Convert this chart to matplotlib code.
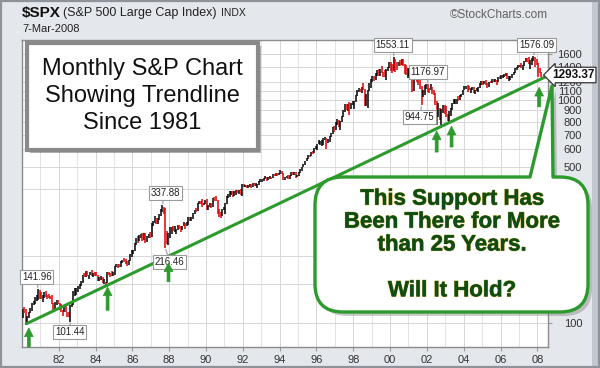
import matplotlib
matplotlib.use("Agg")
import matplotlib.pyplot as plt
from matplotlib.path import Path
from matplotlib.patches import PathPatch, Rectangle
from matplotlib.ticker import FixedLocator, NullLocator, FixedFormatter
import matplotlib.patheffects as pe

plt.rcParams['font.family'] = ['Liberation Sans', 'DejaVu Sans']

# ---------------- data (monthly S&P 500, Jan 1980 - 7 Mar 2008) ----------------
start_year = 1980
prev_close_dec1979 = 107.94

closes = [
    [114.16, 113.66, 102.09, 106.29, 111.24, 114.24, 121.67, 122.38, 125.46, 127.47, 140.52, 135.76],
    [129.55, 131.27, 136.00, 132.81, 132.59, 131.21, 130.92, 122.79, 116.18, 121.89, 126.35, 122.55],
    [120.40, 113.11, 111.96, 116.44, 111.88, 109.61, 107.09, 119.51, 120.42, 133.71, 138.54, 140.64],
    [145.30, 148.06, 152.96, 164.42, 162.39, 168.11, 162.56, 164.40, 166.07, 163.55, 166.40, 164.93],
    [163.41, 157.06, 159.18, 160.05, 150.55, 153.18, 150.66, 166.68, 166.10, 166.09, 163.58, 167.24],
    [179.63, 181.18, 180.66, 179.83, 189.55, 191.85, 190.92, 188.63, 182.08, 189.82, 202.17, 211.28],
    [211.78, 226.92, 238.90, 235.52, 247.35, 250.84, 236.12, 252.93, 231.32, 243.98, 249.22, 242.17],
    [274.08, 284.20, 291.70, 288.36, 290.10, 304.00, 318.66, 329.80, 321.83, 251.79, 230.30, 247.08],
    [257.07, 267.82, 258.89, 261.33, 262.16, 273.50, 272.02, 261.52, 271.91, 278.97, 273.70, 277.72],
    [297.47, 288.86, 294.87, 309.64, 320.52, 317.98, 346.08, 351.45, 349.15, 340.36, 345.99, 353.40],
    [329.08, 331.89, 339.94, 330.80, 361.23, 358.02, 356.15, 322.56, 306.05, 304.00, 322.22, 330.22],
    [343.93, 367.07, 375.22, 375.35, 389.83, 371.16, 387.81, 395.43, 387.86, 392.46, 375.22, 417.09],
    [408.79, 412.70, 403.69, 414.95, 415.35, 408.14, 424.21, 414.03, 417.80, 418.68, 431.35, 435.71],
    [438.78, 443.38, 451.67, 440.19, 450.19, 450.53, 448.13, 463.56, 458.93, 467.83, 461.79, 466.45],
    [481.61, 467.14, 445.77, 450.91, 456.50, 444.27, 458.26, 475.49, 462.69, 472.35, 453.69, 459.27],
    [470.42, 487.39, 500.71, 514.71, 533.40, 544.75, 562.06, 561.88, 584.41, 581.50, 605.37, 615.93],
    [636.02, 640.43, 645.50, 654.17, 669.12, 670.63, 639.95, 651.99, 687.33, 705.27, 757.02, 740.74],
    [786.16, 790.82, 757.12, 801.34, 848.28, 885.14, 954.31, 899.47, 947.28, 914.62, 955.40, 970.43],
    [980.28, 1049.34, 1101.75, 1111.75, 1090.82, 1133.84, 1120.67, 957.28, 1017.01, 1098.67, 1163.63, 1229.23],
    [1279.64, 1238.33, 1286.37, 1335.18, 1301.84, 1372.71, 1328.72, 1320.41, 1282.71, 1362.93, 1388.91, 1469.25],
    [1394.46, 1366.42, 1498.58, 1452.43, 1420.60, 1454.60, 1430.83, 1517.68, 1436.51, 1429.40, 1314.95, 1320.28],
    [1366.01, 1239.94, 1160.33, 1249.46, 1255.82, 1224.42, 1211.23, 1133.58, 1040.94, 1059.78, 1139.45, 1148.08],
    [1130.20, 1106.73, 1147.39, 1076.92, 1067.14, 989.82, 911.62, 916.07, 815.28, 885.76, 936.31, 879.82],
    [855.70, 841.15, 848.18, 916.92, 963.59, 974.50, 990.31, 1008.01, 995.97, 1050.71, 1058.20, 1111.92],
    [1131.13, 1144.94, 1126.21, 1107.30, 1120.68, 1140.84, 1101.72, 1104.24, 1114.58, 1130.20, 1173.82, 1211.92],
    [1181.27, 1203.60, 1180.59, 1156.85, 1191.50, 1191.33, 1234.18, 1220.33, 1228.81, 1207.01, 1249.48, 1248.29],
    [1280.08, 1280.66, 1294.83, 1310.61, 1270.09, 1270.20, 1276.66, 1303.82, 1335.85, 1377.94, 1400.63, 1418.30],
    [1438.24, 1406.82, 1420.86, 1482.37, 1530.62, 1503.35, 1455.27, 1473.99, 1526.75, 1549.38, 1481.14, 1468.36],
    [1378.55, 1330.63, 1293.37],
]

highs = [
    [115.2, 118.4, 115.3, 107.9, 112.0, 117.0, 122.5, 126.0, 130.4, 133.7, 141.96, 141.0],
    [138.1, 133.0, 137.7, 138.4, 134.0, 135.4, 132.6, 133.9, 123.0, 124.0, 127.3, 126.9],
    [122.9, 121.4, 114.4, 119.3, 119.9, 112.3, 112.5, 120.3, 124.9, 139.2, 143.0, 143.6],
    [147.1, 149.3, 153.9, 164.4, 167.0, 170.4, 170.7, 164.4, 169.8, 172.7, 167.1, 169.0],
    [169.5, 163.4, 160.3, 162.1, 161.0, 157.0, 153.2, 168.5, 169.0, 167.5, 170.4, 168.6],
    [180.3, 183.9, 184.0, 183.6, 190.0, 192.0, 196.3, 193.3, 189.3, 190.6, 203.0, 212.0],
    [213.0, 228.5, 240.5, 244.7, 247.8, 251.8, 253.0, 254.0, 254.0, 244.8, 251.0, 254.9],
    [280.96, 287.5, 301.9, 296.3, 296.5, 309.6, 324.2, 337.88, 330.3, 328.0, 257.4, 252.0],
    [268.6, 268.5, 272.0, 271.0, 263.0, 275.0, 275.0, 272.9, 272.6, 283.7, 279.9, 283.0],
    [297.5, 300.0, 298.5, 311.0, 322.6, 328.0, 346.1, 354.1, 353.9, 360.4, 346.1, 354.6],
    [360.6, 336.8, 344.5, 344.3, 362.0, 368.0, 369.8, 357.0, 325.0, 314.0, 323.0, 330.8],
    [344.0, 371.0, 380.0, 391.3, 391.0, 390.2, 389.0, 396.6, 396.6, 394.0, 399.0, 418.0],
    [420.8, 417.0, 413.9, 416.3, 419.0, 418.0, 425.9, 425.0, 422.5, 420.0, 432.5, 441.3],
    [442.0, 449.0, 456.5, 451.0, 453.5, 454.0, 452.5, 464.5, 463.6, 470.0, 468.6, 470.8],
    [482.9, 482.2, 471.0, 452.0, 458.0, 462.5, 459.0, 476.0, 476.0, 476.5, 474.0, 463.0],
    [473.0, 488.0, 503.0, 515.0, 534.0, 551.0, 563.8, 565.0, 586.0, 588.0, 608.0, 622.9],
    [636.2, 664.2, 656.0, 659.0, 673.0, 680.5, 675.0, 670.0, 690.0, 714.0, 758.0, 762.1],
    [794.7, 817.7, 814.9, 805.0, 851.9, 898.7, 961.0, 960.0, 960.0, 983.1, 973.0, 986.3],
    [992.0, 1050.0, 1106.0, 1130.0, 1121.0, 1139.0, 1190.6, 1121.0, 1066.0, 1103.8, 1192.0, 1244.9],
    [1280.0, 1283.7, 1316.0, 1362.0, 1375.0, 1372.7, 1420.3, 1337.0, 1361.0, 1373.0, 1410.0, 1473.0],
    [1478.0, 1444.6, 1553.11, 1527.0, 1481.5, 1474.6, 1517.3, 1525.2, 1530.1, 1454.8, 1438.5, 1389.9],
    [1383.4, 1376.4, 1267.4, 1269.3, 1315.9, 1286.6, 1239.8, 1226.3, 1155.4, 1110.6, 1163.4, 1173.6],
    [1176.97, 1130.2, 1173.9, 1147.8, 1106.6, 1070.7, 994.5, 965.0, 924.0, 907.4, 951.6, 954.3],
    [935.1, 864.6, 895.9, 924.2, 965.4, 1015.3, 1015.4, 1011.0, 1040.3, 1053.8, 1063.7, 1112.6],
    [1155.4, 1159.0, 1163.2, 1150.6, 1127.7, 1146.3, 1140.8, 1109.7, 1131.5, 1142.1, 1188.5, 1217.9],
    [1217.8, 1212.4, 1229.1, 1191.9, 1199.6, 1219.6, 1245.2, 1245.9, 1243.1, 1233.3, 1270.6, 1275.8],
    [1294.9, 1297.6, 1310.9, 1318.2, 1326.7, 1284.0, 1280.4, 1306.7, 1340.3, 1389.5, 1407.9, 1431.8],
    [1441.6, 1461.6, 1438.9, 1498.0, 1535.6, 1540.6, 1555.9, 1503.9, 1538.7, 1576.09, 1552.8, 1523.6],
    [1471.8, 1396.0, 1336.0],
]

lows = [
    [105.2, 111.1, 98.2, 99.8, 104.7, 110.6, 113.2, 119.8, 121.6, 124.8, 126.3, 127.4],
    [128.0, 124.6, 130.0, 131.3, 128.2, 129.8, 127.9, 122.0, 112.8, 115.0, 120.4, 121.4],
    [114.8, 112.0, 106.9, 111.7, 111.7, 106.2, 106.6, 101.44, 117.9, 120.4, 131.7, 133.0],
    [138.3, 141.5, 147.0, 151.8, 160.3, 161.3, 161.6, 158.0, 163.8, 163.0, 161.0, 162.4],
    [163.2, 154.3, 153.8, 155.8, 150.3, 149.9, 147.3, 150.7, 163.3, 161.5, 162.3, 161.6],
    [163.4, 177.5, 176.5, 177.9, 178.4, 185.6, 188.5, 184.1, 180.6, 181.2, 189.1, 198.0],
    [203.5, 210.9, 224.6, 228.8, 232.6, 240.6, 233.6, 234.7, 228.4, 230.0, 240.2, 241.0],
    [242.2, 272.0, 280.7, 276.7, 278.2, 288.4, 301.5, 314.0, 309.3, 216.46, 225.8, 223.9],
    [240.2, 250.8, 258.0, 256.0, 249.9, 260.1, 264.6, 256.5, 261.0, 271.6, 264.5, 272.0],
    [274.3, 287.0, 286.4, 292.8, 307.0, 314.0, 316.7, 342.0, 343.3, 330.0, 336.5, 341.5],
    [320.0, 322.0, 330.0, 327.6, 330.8, 354.0, 353.0, 307.0, 300.0, 294.5, 301.0, 322.0],
    [309.4, 343.0, 364.0, 368.0, 373.0, 368.6, 370.0, 375.0, 383.0, 379.0, 374.0, 371.4],
    [406.0, 406.5, 401.0, 401.0, 409.0, 401.0, 406.5, 410.0, 412.0, 402.7, 416.0, 426.5],
    [428.0, 431.0, 440.0, 433.5, 436.5, 440.8, 441.7, 446.0, 455.0, 456.0, 456.5, 460.5],
    [464.5, 465.0, 436.0, 435.5, 445.0, 442.0, 443.0, 456.0, 460.5, 460.0, 449.0, 452.0],
    [457.0, 470.0, 481.0, 500.0, 511.0, 530.0, 544.0, 553.0, 561.0, 575.0, 578.0, 601.0],
    [597.0, 633.0, 627.6, 624.0, 630.0, 661.0, 605.9, 639.0, 649.0, 684.0, 703.0, 722.0],
    [737.0, 773.0, 756.0, 733.5, 797.0, 842.0, 884.0, 899.0, 896.0, 855.3, 908.0, 946.0],
    [912.8, 980.0, 1044.0, 1085.0, 1085.0, 1074.0, 1114.0, 939.9, 939.0, 923.3, 1098.0, 1131.0],
    [1205.0, 1212.0, 1228.0, 1282.0, 1281.0, 1281.0, 1324.0, 1268.0, 1263.0, 1233.7, 1348.0, 1386.0],
    [1350.0, 1325.1, 1346.6, 1339.4, 1361.1, 1420.6, 1413.9, 1429.0, 1419.4, 1305.8, 1294.9, 1254.1],
    [1274.6, 1228.0, 1081.2, 1091.9, 1232.0, 1203.0, 1165.5, 1124.9, 944.75, 1026.8, 1054.3, 1114.9],
    [1081.7, 1074.4, 1106.7, 1063.5, 1048.9, 952.9, 775.7, 837.7, 815.3, 768.6, 872.7, 869.5],
    [840.3, 806.3, 788.9, 847.9, 902.8, 963.6, 962.1, 960.8, 990.4, 995.9, 1031.2, 1053.4],
    [1105.1, 1124.4, 1087.2, 1107.2, 1076.3, 1113.3, 1078.8, 1060.7, 1101.3, 1090.2, 1127.6, 1173.4],
    [1163.8, 1180.9, 1163.7, 1136.2, 1146.2, 1188.3, 1191.3, 1201.1, 1205.4, 1168.2, 1201.1, 1246.6],
    [1245.7, 1253.6, 1268.4, 1280.7, 1245.3, 1219.3, 1224.5, 1261.3, 1290.9, 1327.1, 1360.9, 1385.9],
    [1404.0, 1389.4, 1364.0, 1416.4, 1476.7, 1484.2, 1454.3, 1370.6, 1439.3, 1489.6, 1406.1, 1435.7],
    [1270.05, 1316.8, 1272.7],
]

# labelled extremes: (bar date, value, label position date, label position price)
label_values = ['141.96', '101.44', '337.88', '216.46', '1553.11', '1176.97', '944.75', '1576.09']
label_dates = [1980.87, 1982.62, 1987.62, 1987.79, 2000.21, 2002.04, 2001.71, 2007.79]
label_prices = [141.96, 101.44, 337.88, 216.46, 1553.11, 1176.97, 944.75, 1576.09]
label_text_dates = [1980.80, 1982.60, 1987.77, 1988.03, 2000.15, 2002.05, 2001.61, 2007.95]
label_text_prices = [161, 91.1, 382, 188, 1763, 1335, 837, 1763]

last_value = '1293.37'

trend_dates = [1980.22, 2008.55]
trend_prices = [99, 1283]

arrow_dates = [1980.37, 1984.65, 1987.96, 2002.53, 2003.34, 2008.10]
arrow_tips = [95, 145, 186, 726, 763, 1140]
arrow_tails = [78, 114, 153, 584, 615, 932]

grid_prices = [100, 150, 200, 400, 500, 600, 700, 800, 900, 1000, 1100, 1200, 1400, 1600]
year_ticks = list(range(1982, 2009, 2))
year_labels = ['82', '84', '86', '88', '90', '92', '94', '96', '98', '00', '02', '04', '06', '08']

# ---------------- figure ----------------
W, H = 600, 368
def fx(x):
    return x / W
def fy(y):
    return 1 - y / H

fig = plt.figure(figsize=(6, 3.68), dpi=100, facecolor='#e4e7ec')

# outer frame and right shadow strip
fig.add_artist(Rectangle((fx(592), 0), (W - 592) / W, 1, transform=fig.transFigure,
                         fc='#c3c7ce', ec='none', zorder=-5))
fig.add_artist(Rectangle((0.002, 0.003), 0.996, 0.994, transform=fig.transFigure,
                         fc='none', ec='#8e939a', lw=1.6, zorder=-4))

ax = fig.add_axes([fx(22), fy(347), (548 - 22) / W, (347 - 40) / H])
ax.set_facecolor('white')
ax.set_yscale('log')
ax.set_xlim(1980.0, 2008.58)
ax.set_ylim(78, 1858)

for s in ax.spines.values():
    s.set_color('#8c8c8c')
    s.set_linewidth(1.0)

ax.yaxis.tick_right()
ax.yaxis.set_major_locator(FixedLocator(grid_prices))
ax.yaxis.set_minor_locator(NullLocator())
ax.yaxis.set_major_formatter(FixedFormatter([str(v) for v in grid_prices]))
ax.tick_params(axis='y', which='both', length=3, color='#999999', pad=21.6,
               labelsize=8, labelcolor='#333333')
for lab in ax.get_yticklabels():
    lab.set_horizontalalignment('right')

ax.xaxis.set_major_locator(FixedLocator(year_ticks))
ax.xaxis.set_major_formatter(FixedFormatter(year_labels))
ax.xaxis.set_minor_locator(FixedLocator(list(range(1981, 2009, 2))))
ax.tick_params(axis='x', which='major', length=3, color='#999999', pad=3,
               labelsize=8, labelcolor='#333333')
ax.tick_params(axis='x', which='minor', length=0)
ax.grid(True, which='major', axis='both', color='#d6d6d6', lw=0.7)
ax.grid(True, which='minor', axis='x', color='#e2e2e2', lw=0.7)
ax.set_axisbelow(True)

# monthly bars
xs, lo, hi, cols = [], [], [], []
prev = prev_close_dec1979
for yi, (cy, hy, ly) in enumerate(zip(closes, highs, lows)):
    for mi, (c, h, l) in enumerate(zip(cy, hy, ly)):
        xs.append(start_year + yi + mi / 12 + 1 / 24)
        lo.append(l)
        hi.append(h)
        cols.append('#e00000' if c < prev else '#000000')
        prev = c
ax.vlines(xs, lo, hi, colors=cols, lw=1.1, zorder=3)

# trendline
green = '#2c9a2c'
ax.plot(trend_dates, trend_prices, color=green, lw=2.2, zorder=4, solid_capstyle='butt')

# value labels
for t, d, p, td, tp in zip(label_values, label_dates, label_prices, label_text_dates, label_text_prices):
    ax.annotate(t, xy=(d, p), xytext=(td, tp), ha='center', va='center', fontsize=7,
                color='#222222', annotation_clip=False, zorder=5,
                bbox=dict(boxstyle='square,pad=0.18', fc='white', ec='#9a9a9a', lw=0.8),
                arrowprops=dict(arrowstyle='-', color='#9a9a9a', lw=0.8, shrinkA=0, shrinkB=1))

# arrows (drawn above the value labels)
for d, tip, tail in zip(arrow_dates, arrow_tips, arrow_tails):
    ax.annotate('', xy=(d, tip), xytext=(d, tail), annotation_clip=False,
                arrowprops=dict(arrowstyle='simple,head_length=0.45,head_width=0.45,tail_width=0.15',
                                fc=green, ec=green, lw=0.5, mutation_scale=14,
                                shrinkA=0, shrinkB=0), zorder=7)

# legend line (mostly hidden by the title box)
ax.text(0.005, 0.995, '\u25a0 $SPX (Monthly) 1293.37', transform=ax.transAxes, fontsize=6.5,
        color='#333333', ha='left', va='top', zorder=2)

# header texts
fig.text(fx(22), fy(13), '$SPX', fontsize=11, fontweight='bold', color='#111111', va='center')
fig.text(fx(63), fy(13), '(S&P 500 Large Cap Index)', fontsize=9, color='#222222', va='center')
fig.text(fx(221), fy(13), 'INDX', fontsize=7.5, color='#222222', va='center')
fig.text(fx(22), fy(29), '7-Mar-2008', fontsize=8, color='#222222', va='center')
fig.text(fx(548), fy(15), '\u00a9StockCharts.com', fontsize=8.5, color='#606060',
         ha='right', va='center')

# last value label
fig.text(fx(573), fy(75), last_value, fontsize=8.5, fontweight='bold', color='#111111',
         ha='center', va='center', zorder=20,
         bbox=dict(boxstyle='larrow,pad=0.15', fc='white', ec='#333333', lw=0.9))

# title box
fig.add_artist(Rectangle((fx(30), fy(153)), (258 - 27) / W, (150 - 43) / H,
                         transform=fig.transFigure, fc='#555555', ec='none', alpha=0.45, zorder=8))
fig.add_artist(Rectangle((fx(27), fy(150)), (258 - 27) / W, (150 - 43) / H,
                         transform=fig.transFigure, fc='white', ec='#8a8a8a', lw=3, zorder=9))
fig.text(fx(142.5), fy(96), 'Monthly S&P Chart\nShowing Trendline\nSince 1981', fontsize=17,
         color='#111111', ha='center', va='center', multialignment='center', linespacing=1.3,
         zorder=10)

# callout with tail
def callout_path(dx=0, dy=0):
    L, R, T, B, r = 315 + dx, 588 + dx, 177 + dy, 312 + dy, 28
    tb1, tb2, tip = (530 + dx, T), (553 + dx, T), (552 + dx, 86 + dy)
    pts = [(L + r, T), tb1, tip, tb2, (R - r, T), (R, T), (R, T + r), (R, B - r), (R, B),
           (R - r, B), (L + r, B), (L, B), (L, B - r), (L, T + r), (L, T), (L + r, T)]
    codes = [Path.MOVETO, Path.LINETO, Path.LINETO, Path.LINETO, Path.LINETO, Path.CURVE3,
             Path.CURVE3, Path.LINETO, Path.CURVE3, Path.CURVE3, Path.LINETO, Path.CURVE3,
             Path.CURVE3, Path.LINETO, Path.CURVE3, Path.CURVE3]
    verts = [(fx(x), fy(y)) for x, y in pts]
    return Path(verts, codes)

fig.add_artist(PathPatch(callout_path(4, 4), transform=fig.transFigure, fc='#6b6b6b',
                         ec='none', alpha=0.35, zorder=11))
fig.add_artist(PathPatch(callout_path(), transform=fig.transFigure, fc='white',
                         ec=green, lw=2.4, zorder=12, joinstyle='round'))
fig.text(fx(452), fy(245), 'This Support Has\nBeen There for More\nthan 25 Years.\n\nWill It Hold?',
         fontsize=16, fontweight='bold', color='#0e4d14', ha='center', va='center',
         multialignment='center', linespacing=1.12, zorder=13,
         path_effects=[pe.withStroke(linewidth=0.8, foreground='#b8a33a'), pe.Normal()])

fig.savefig('out.png', dpi=100, facecolor=fig.get_facecolor())
